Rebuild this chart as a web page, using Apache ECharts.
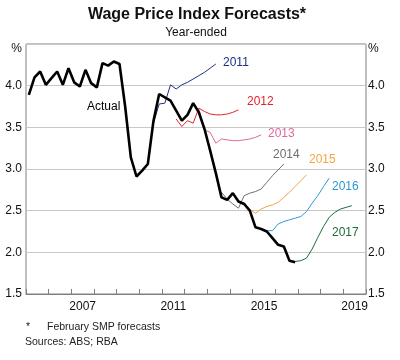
<!DOCTYPE html>
<html>
<head>
<meta charset="utf-8">
<script src="https://cdn.jsdelivr.net/npm/echarts@6/dist/echarts.min.js"></script>
<style>html,body{margin:0;padding:0;background:#fff;}#c{width:400px;height:360px;}</style>
</head>
<body>
<div id="c"></div>
<script>
// ---- data ----
const years = ['2005','2006','2007','2008','2009','2010','2011','2012','2013','2014','2015','2016','2017','2018','2019'];
const yearLabels = ['2007','2011','2015','2019'];
const actualStart = '2005-Q1';
const actual = [3.89,4.10,4.17,4.01,4.09,4.17,4.01,4.21,4.04,3.99,4.19,4.03,3.98,4.27,4.24,4.29,4.26,3.75,3.14,2.91,2.98,3.06,3.58,3.90,3.86,3.82,3.70,3.58,3.65,3.79,3.68,3.48,3.22,2.95,2.66,2.63,2.71,2.61,2.58,2.50,2.30,2.28,2.25,2.17,2.09,2.07,1.90,1.88];
const f2011Start = '2010-Q3';
const f2011 = [3.55,3.78,3.79,4.01,3.96,4.01,4.04,4.08,4.12,4.16,4.21,4.26];
const f2012Start = '2011-Q3';
const f2012 = [3.60,3.51,3.58,3.55,3.73,3.69,3.66,3.65,3.65,3.66,3.68,3.71];
const f2013Start = '2012-Q3';
const f2013 = [3.72,3.47,3.44,3.31,3.36,3.35,3.34,3.34,3.35,3.36,3.38,3.41];
const f2014Start = '2013-Q3';
const f2014 = [2.72,2.64,2.58,2.53,2.68,2.71,2.73,2.76,2.84,2.92,2.99,3.06];
const f2015Start = '2014-Q3';
const f2015 = [2.60,2.51,2.47,2.52,2.55,2.57,2.60,2.66,2.72,2.79,2.86,2.93];
const f2016Start = '2015-Q3';
const f2016 = [2.26,2.26,2.34,2.37,2.39,2.41,2.43,2.49,2.59,2.68,2.79,2.89];
const f2017Start = '2016-Q3';
const f2017 = [1.90,1.89,1.90,1.93,2.04,2.18,2.31,2.42,2.48,2.52,2.54,2.56];

// ---- helpers ----
function toSeries(start, vals) {
  const [y, q] = start.split('-Q').map(Number);
  return vals.map((v, i) => {
    const qi = (q - 1) + i;
    return [y + (qi + 0.5) / 4, v];
  });
}
const FONT = '"Liberation Sans", Arial, sans-serif';
function line(name, start, vals, color, width, z) {
  return {
    name, type: 'line', xAxisIndex: 1, yAxisIndex: 0,
    data: toSeries(start, vals), showSymbol: false, symbol: 'none',
    lineStyle: { color, width }, z, animation: false
  };
}
function txt(x, y, text, color, size, extra) {
  return Object.assign({ type: 'text', x, y, silent: true,
    style: { text, fill: color, font: (size) + 'px ' + FONT, verticalAlign: 'middle', align: 'left' } }, extra || {});
}

const chart = echarts.init(document.getElementById('c'), null, { renderer: 'canvas' });
chart.setOption({
  animation: false,
  grid: { left: 26, right: 34, top: 44, bottom: 66, show: true, borderColor: '#808080', borderWidth: 1, containLabel: false },
  xAxis: [
    { type: 'category', data: years, boundaryGap: true, position: 'bottom',
      axisLine: { show: true, lineStyle: { color: '#808080' } },
      axisTick: { show: true, inside: true, length: 5, interval: 0, lineStyle: { color: '#808080' } },
      axisLabel: { interval: 0, formatter: v => yearLabels.indexOf(v) >= 0 ? v : '', color: '#111', fontSize: 12, fontFamily: FONT, margin: 7 },
      splitLine: { show: false } },
    { type: 'value', min: 2005, max: 2020, show: false }
  ],
  yAxis: [
    { type: 'value', min: 1.5, max: 4.5, interval: 0.5, position: 'left',
      axisLine: { show: false }, axisTick: { show: false },
      axisLabel: { formatter: v => v >= 4.49 ? '' : v.toFixed(1), color: '#111', fontSize: 12, fontFamily: FONT, margin: 4 },
      splitLine: { show: true, lineStyle: { color: '#c8c8c8', width: 1 } } },
    { type: 'value', min: 1.5, max: 4.5, interval: 0.5, position: 'right',
      axisLine: { show: false }, axisTick: { show: false },
      axisLabel: { formatter: v => v >= 4.49 ? '' : v.toFixed(1), color: '#111', fontSize: 12, fontFamily: FONT, margin: 2 },
      splitLine: { show: false } }
  ],
  series: [
    line('2011', f2011Start, f2011, '#1e2f80', 1, 2),
    line('2012', f2012Start, f2012, '#e3242b', 1, 2),
    line('2013', f2013Start, f2013, '#e2679b', 1, 2),
    line('2014', f2014Start, f2014, '#6d6e71', 1, 2),
    line('2015', f2015Start, f2015, '#f3a643', 1, 2),
    line('2016', f2016Start, f2016, '#2c9ad5', 1, 2),
    line('2017', f2017Start, f2017, '#1d6b3a', 1, 2),
    line('Actual', actualStart, actual, '#000000', 2.6, 3)
  ],
  graphic: [
    txt(197, 15, 'Wage Price Index Forecasts*', '#111', 16, { style: { text: 'Wage Price Index Forecasts*', fill: '#111', font: 'bold 16px ' + FONT, align: 'center', verticalAlign: 'middle' } }),
    txt(196, 33, 'Year-ended', '#111', 12, { style: { text: 'Year-ended', fill: '#111', font: '12px ' + FONT, align: 'center', verticalAlign: 'middle' } }),
    txt(22, 49, '%', '#111', 12, { style: { text: '%', fill: '#111', font: '12px ' + FONT, align: 'right', verticalAlign: 'middle' } }),
    txt(368, 49, '%', '#111', 12),
    txt(87, 107, 'Actual', '#000', 12),
    txt(223, 63, '2011', '#1e2f80', 12),
    txt(247, 102, '2012', '#e3242b', 12),
    txt(268, 134, '2013', '#e2679b', 12),
    txt(273, 155, '2014', '#6d6e71', 12),
    txt(309, 160, '2015', '#f3a643', 12),
    txt(332, 187, '2016', '#2c9ad5', 12),
    txt(332, 233, '2017', '#1d6b3a', 12),
    txt(26, 327, '*', '#222', 10.5),
    txt(47, 327, 'February SMP forecasts', '#222', 10.5),
    txt(25, 342, 'Sources: ABS; RBA', '#222', 10.5)
  ]
});
</script>
</body>
</html>
